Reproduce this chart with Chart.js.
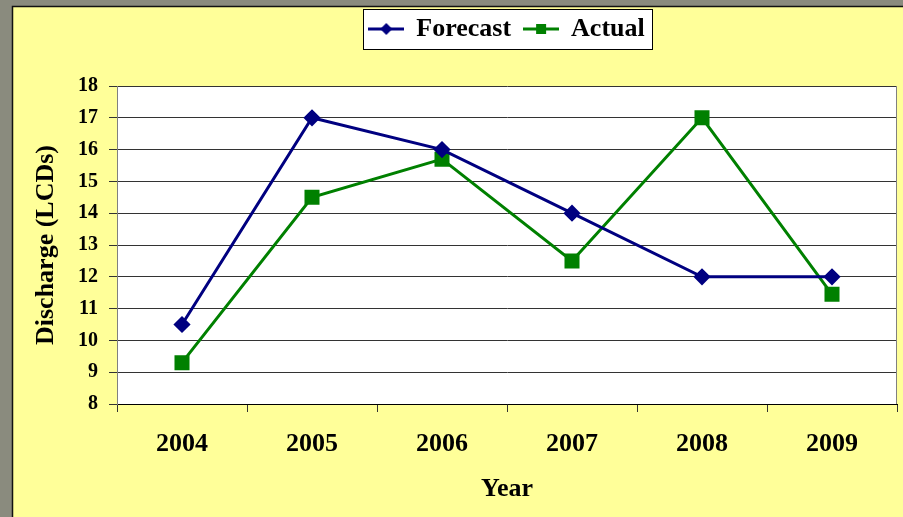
<!DOCTYPE html>
<html>
<head>
<meta charset="utf-8">
<style>
  html, body { margin: 0; padding: 0; background: #8a8b7e; }
  canvas { display: block; }
</style>
<script src="https://cdn.jsdelivr.net/npm/chart.js@4"></script>
</head>
<body>
<canvas id="chart" width="903" height="517"></canvas>
<script>
const years = ["2004", "2005", "2006", "2007", "2008", "2009"];
const forecast = [10.5, 17, 16, 14, 12, 12];
const actual = [9.3, 14.5, 15.7, 12.5, 17, 11.45];
const yMin = 8, yMax = 18, yStep = 1;

const NAVY = "#000080";
const GREEN = "#008000";

// little "line with marker" icons for the legend
function legendIcon(color, shape) {
  const c = document.createElement("canvas");
  c.width = 36; c.height = 16;
  const g = c.getContext("2d");
  g.strokeStyle = color; g.lineWidth = 3;
  g.beginPath(); g.moveTo(0, 8); g.lineTo(36, 8); g.stroke();
  g.fillStyle = color;
  if (shape === "diamond") {
    g.beginPath();
    g.moveTo(18, 2); g.lineTo(24, 8); g.lineTo(18, 14); g.lineTo(12, 8);
    g.closePath(); g.fill();
  } else {
    g.fillRect(13, 3, 10, 10);
  }
  return c;
}
const icons = [legendIcon(NAVY, "diamond"), legendIcon(GREEN, "square")];

// yellow slide background, white plot area, legend box
const background = {
  id: "background",
  beforeDraw(chart) {
    const { ctx, chartArea: a, legend } = chart;
    ctx.save();
    ctx.fillStyle = "#8a8b7e";
    ctx.fillRect(0, 0, chart.width, chart.height);
    ctx.fillStyle = "#ffff99";
    ctx.fillRect(12, 6, chart.width - 12, chart.height - 6);
    ctx.strokeStyle = "#111";
    ctx.lineWidth = 1.5;
    ctx.beginPath();
    ctx.moveTo(12.5, chart.height); ctx.lineTo(12.5, 6.5); ctx.lineTo(chart.width, 6.5);
    ctx.stroke();

    ctx.fillStyle = "#ffffff";
    ctx.fillRect(a.left, a.top, a.right - a.left, a.bottom - a.top);

    const hb = legend && legend.legendHitBoxes;
    if (hb && hb.length) {
      const last = hb[hb.length - 1];
      const l = Math.round(hb[0].left - 6) + 0.5;
      const r = Math.round(last.left + last.width + 7) + 0.5;
      const cy = hb[0].top + hb[0].height / 2;
      ctx.fillStyle = "#ffffff";
      ctx.fillRect(l, Math.round(cy - 20) + 0.5, r - l, 40);
      ctx.strokeStyle = "#000";
      ctx.lineWidth = 1;
      ctx.strokeRect(l, Math.round(cy - 20) + 0.5, r - l, 40);
    }
    ctx.restore();
  },
  afterDraw(chart) {
    const { ctx, chartArea: a } = chart;
    ctx.save();
    ctx.strokeStyle = "#808080";
    ctx.lineWidth = 1;
    ctx.beginPath();
    ctx.moveTo(a.right - 0.5, a.top); ctx.lineTo(a.right - 0.5, a.bottom);
    ctx.stroke();
    ctx.restore();
  }
};

Chart.defaults.font.family = "'Liberation Serif', 'DejaVu Serif', serif";
Chart.defaults.font.weight = "bold";
Chart.defaults.color = "#000";

new Chart(document.getElementById("chart"), {
  type: "line",
  data: {
    labels: years,
    datasets: [
      {
        label: "Forecast",
        data: forecast,
        borderColor: NAVY,
        backgroundColor: NAVY,
        borderWidth: 3,
        pointStyle: "rectRot",
        pointRadius: 6.5,
        pointHoverRadius: 6.5,
        tension: 0,
        fill: false
      },
      {
        label: "Actual",
        data: actual,
        borderColor: GREEN,
        backgroundColor: GREEN,
        borderWidth: 3,
        pointStyle: "rect",
        pointRadius: 8.5,
        pointHoverRadius: 8.5,
        tension: 0,
        fill: false
      }
    ]
  },
  options: {
    responsive: false,
    animation: false,
    devicePixelRatio: 1,
    layout: { autoPadding: false, padding: { left: 13, top: 3, right: 6, bottom: 0 } },
    plugins: {
      legend: {
        position: "top",
        fullSize: false,
        labels: {
          usePointStyle: true,
          pointStyleWidth: 34,
          padding: 13,
          font: { size: 26, weight: "bold" },
          generateLabels(chart) {
            const items = Chart.defaults.plugins.legend.labels.generateLabels(chart);
            items.forEach((it, i) => { it.pointStyle = icons[i]; it.fontColor = "#000"; });
            return items;
          }
        }
      },
      // empty title used only as a spacer between legend and plot
      title: {
        display: true,
        text: "",
        weight: 500,
        font: { size: 10, lineHeight: 1 },
        padding: { top: 0, bottom: 24 }
      },
      tooltip: { enabled: false }
    },
    scales: {
      x: {
        offset: true,
        grid: {
          offset: true,
          drawOnChartArea: false,
          drawTicks: true,
          tickLength: 8,
          color: "#333"
        },
        border: { display: true, color: "#000", width: 1 },
        ticks: { padding: 17, font: { size: 26, weight: "bold" }, color: "#000" },
        title: {
          display: true,
          text: "Year",
          font: { size: 26, weight: "bold" },
          color: "#000",
          padding: { top: 0, bottom: 12 }
        },
        afterFit(scale) {
          scale.height = 113;
          scale.paddingLeft = 0;
          scale.paddingRight = 0;
        }
      },
      y: {
        min: yMin,
        max: yMax,
        ticks: { stepSize: yStep, padding: 11, font: { size: 20, weight: "bold" }, color: "#000" },
        grid: { color: "#333", lineWidth: 1, drawTicks: true, tickLength: 8 },
        border: { display: true, color: "#808080", width: 1 },
        title: {
          display: true,
          text: "Discharge (LCDs)",
          font: { size: 26, weight: "bold" },
          color: "#000",
          padding: { top: 18, bottom: 0 }
        },
        afterFit(scale) { scale.width = 104; }
      }
    }
  },
  plugins: [background]
});
</script>
</body>
</html>
